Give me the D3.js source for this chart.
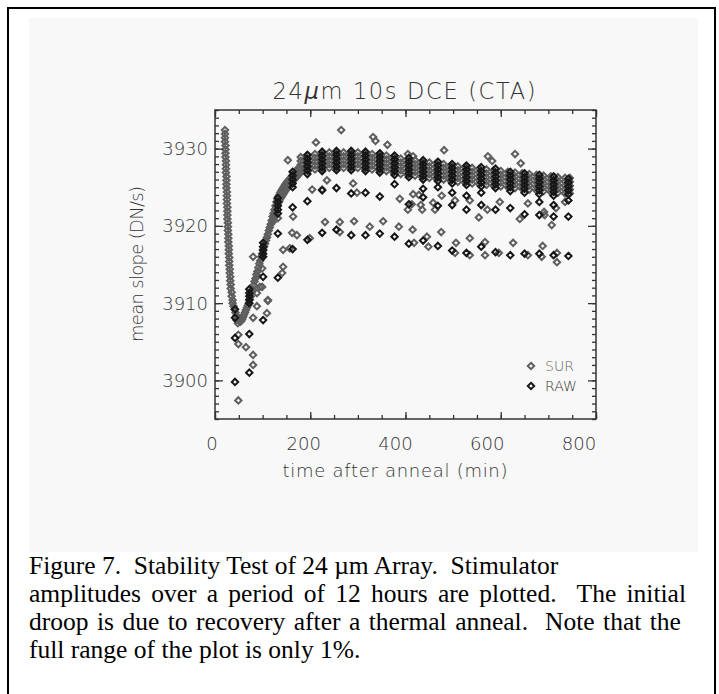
<!DOCTYPE html>
<html>
<head>
<meta charset="utf-8">
<script src="https://cdn.jsdelivr.net/npm/d3@7"></script>
<style>
body { margin: 0; background: #fff; }
svg text { white-space: pre; }
</style>
</head>
<body>
<svg id="chart"></svg>
<script>
width = 719
height = 694

titleParts = ["24", "μ", "m 10s DCE (CTA)"]
xLabel = "time after anneal (min)"
yLabel = "mean slope (DN/s)"
xTicks = [0, 200, 400, 600, 800]
yTicks = [3900, 3910, 3920, 3930]
legendNames = ["SUR", "RAW"]
captionLines = [
    "Figure 7.  Stability Test of 24 µm Array.  Stimulator",
    "amplitudes over a period of 12 hours are plotted.  The initial",
    "droop is due to recovery after a thermal anneal.  Note that the",
    "full range of the plot is only 1%."
]
// justified line widths in the scanned caption (0 = natural width)
captionWidths = [0, 657, 652, 0]

// SUR: [time, [values...]] -- droop and recovery
surDroop = [
    [21, [3932.4, 3931.9, 3931.4, 3930.9]], [22, [3930.4, 3929.9, 3929.4, 3928.9]],
    [23, [3928.4, 3927.9, 3927.4, 3926.9]], [24, [3926.4, 3925.9, 3925.4, 3924.9]],
    [25, [3924.4, 3923.9, 3923.4, 3922.9]], [26, [3922.4, 3921.9, 3921.4, 3920.9]],
    [27, [3920.4, 3919.9, 3919.4]], [28, [3918.9, 3918.4, 3917.9]],
    [29, [3917.4, 3916.9, 3916.4]], [30, [3915.9, 3915.4, 3914.9]],
    [31, [3914.4, 3913.9]], [32, [3913.4, 3912.9]], [33, [3912.4, 3911.9]],
    [35, [3911.4, 3910.9]], [37, [3910.4, 3910.0]], [39, [3909.6]], [41, [3909.2]],
    [43, [3908.8]], [45, [3908.4, 3907.8]], [48, [3908.0, 3907.4]], [51, [3907.7]],
    [53, [3907.6]], [55, [3907.7]], [57, [3907.9]], [59, [3908.2]], [61, [3908.5]],
    [63, [3908.8]], [65, [3909.1]], [67, [3909.4]], [69, [3909.7]], [71, [3910.0]],
    [73, [3910.5]], [75, [3910.9]], [77, [3911.4]], [79, [3911.8]], [81, [3912.3]],
    [83, [3912.8]], [85, [3913.2]], [87, [3913.7]], [89, [3914.1]], [91, [3914.6]],
    [93, [3915.1]], [95, [3915.5]], [97, [3916.0]], [99, [3916.4]], [101, [3916.8]],
    [103, [3917.3]], [105, [3917.7]], [107, [3918.1]], [109, [3918.5]], [111, [3918.9]],
    [113, [3919.4]], [115, [3919.8]], [117, [3920.2]], [119, [3920.7]], [121, [3921.2, 3920.5]],
    [123, [3921.6, 3920.9]], [125, [3922.1, 3921.3]], [127, [3922.6, 3921.8]],
    [129, [3923.1, 3922.3]], [131, [3923.5, 3922.7]], [133, [3923.8, 3923.0]],
    [135, [3924.0, 3923.2]], [137, [3924.3, 3923.5]], [139, [3924.5, 3923.7]],
    [141, [3924.7, 3923.9]], [143, [3924.9, 3924.1]], [145, [3925.1, 3924.3]],
    [147, [3925.3, 3924.5]], [149, [3925.5, 3924.7]], [151, [3925.6, 3924.8]],
    [153, [3925.8, 3925.0]], [155, [3925.9, 3925.1]], [157, [3926.1, 3925.3]],
    [159, [3926.2, 3925.4]], [162, [3926.5, 3925.7]], [165, [3926.7, 3925.9]],
    [168, [3926.9, 3926.1]], [171, [3927.2, 3926.3]], [174, [3927.4, 3926.6]],
    [177, [3927.5, 3926.8]]
]

// SUR: plateau, several channels per reading
surPlateau = [
    [180, [3928.9, 3928.4, 3927.9, 3927.4, 3926.9]], [195, [3929.1, 3928.6, 3928.1, 3927.6, 3927.1]],
    [210, [3929.3, 3928.8, 3928.3, 3927.8, 3927.3]], [225, [3929.4, 3928.9, 3928.4, 3927.9, 3927.4]],
    [240, [3929.5, 3929.0, 3928.5, 3928.0, 3927.5]], [255, [3929.5, 3929.0, 3928.5, 3928.0, 3927.5]],
    [270, [3929.5, 3929.0, 3928.5, 3928.0, 3927.5]], [285, [3929.5, 3929.0, 3928.5, 3928.0, 3927.5]],
    [300, [3929.5, 3929.0, 3928.5, 3928.0, 3927.5]], [315, [3929.4, 3928.9, 3928.4, 3927.9, 3927.4]],
    [330, [3929.3, 3928.8, 3928.3, 3927.8, 3927.3]], [345, [3929.2, 3928.7, 3928.2, 3927.7, 3927.2]],
    [360, [3929.1, 3928.6, 3928.1, 3927.6, 3927.1]], [375, [3928.9, 3928.4, 3927.9, 3927.4, 3926.9]],
    [390, [3928.7, 3928.2, 3927.7, 3927.2, 3926.7]], [405, [3928.6, 3928.1, 3927.6, 3927.1, 3926.6]],
    [420, [3928.5, 3928.0, 3927.5, 3927.0, 3926.5]], [435, [3928.3, 3927.8, 3927.3, 3926.8, 3926.3]],
    [450, [3928.2, 3927.7, 3927.2, 3926.7, 3926.2]], [465, [3928.1, 3927.6, 3927.1, 3926.6, 3926.1]],
    [480, [3928.0, 3927.5, 3927.0, 3926.5, 3926.0]], [495, [3927.8, 3927.3, 3926.8, 3926.3, 3925.8]],
    [510, [3927.7, 3927.2, 3926.7, 3926.2, 3925.7]], [525, [3927.6, 3927.1, 3926.6, 3926.1, 3925.6]],
    [540, [3927.5, 3927.0, 3926.5, 3926.0, 3925.5]], [555, [3927.4, 3926.9, 3926.4, 3925.9, 3925.4]],
    [570, [3927.3, 3926.8, 3926.3, 3925.8, 3925.3]], [585, [3927.2, 3926.7, 3926.2, 3925.7, 3925.2]],
    [600, [3927.1, 3926.6, 3926.1, 3925.6, 3925.1]], [615, [3927.0, 3926.5, 3926.0, 3925.5, 3925.0]],
    [630, [3926.9, 3926.4, 3925.9, 3925.4, 3924.9]], [645, [3926.8, 3926.3, 3925.8, 3925.3, 3924.8]],
    [660, [3926.7, 3926.2, 3925.7, 3925.2, 3924.7]], [675, [3926.6, 3926.1, 3925.6, 3925.1, 3924.6]],
    [690, [3926.5, 3926.0, 3925.5, 3925.0, 3924.5]], [705, [3926.4, 3925.9, 3925.4, 3924.9, 3924.4]],
    [720, [3926.3, 3925.8, 3925.3, 3924.8, 3924.3]], [735, [3926.2, 3925.7, 3925.2, 3924.7, 3924.2]],
    [745, [3926.2, 3925.7, 3925.2, 3924.7, 3924.2]]
]

// SUR: scattered single channels [time, value]
surScatter = [
    [153, 3928.5], [212, 3930.8], [265, 3932.4], [332, 3931.5], [337, 3931.0],
    [362, 3930.5], [405, 3929.3], [416, 3929.0], [481, 3929.8], [573, 3929.0],
    [582, 3928.4], [630, 3929.3], [642, 3928.1],
    [204, 3924.7], [225, 3924.7], [235, 3925.9], [290, 3925.5], [298, 3924.3],
    [388, 3923.5], [405, 3922.1], [413, 3922.8], [416, 3924.1], [432, 3922.7],
    [435, 3922.1], [458, 3923.0], [462, 3922.1], [476, 3923.9], [428, 3924.0],
    [504, 3923.3], [535, 3923.3], [554, 3921.1], [572, 3922.1], [598, 3923.1],
    [640, 3920.9], [657, 3922.9], [691, 3921.8], [707, 3920.1], [716, 3922.3],
    [735, 3923.1], [692, 3921.4],
    [132, 3921.0], [164, 3921.2], [172, 3918.8],
    [80, 3916.0], [99, 3914.5], [94, 3912.1], [111, 3910.4], [109, 3908.7],
    [143, 3914.7], [141, 3913.9], [157, 3917.1], [143, 3916.9], [162, 3919.1],
    [199, 3918.4], [231, 3920.5], [262, 3920.5], [262, 3919.2], [292, 3920.6],
    [325, 3919.9], [353, 3920.6], [386, 3919.9], [415, 3919.5], [418, 3917.8],
    [445, 3918.6], [448, 3917.3], [475, 3919.2], [506, 3917.8], [504, 3916.5],
    [535, 3918.4], [535, 3916.2], [567, 3917.9], [567, 3916.2], [596, 3916.5],
    [626, 3917.8], [657, 3916.2], [686, 3916.0], [688, 3917.4], [718, 3915.3],
    [718, 3916.5],
    [49, 3905.9], [49, 3904.7], [49, 3897.4], [65, 3904.3], [80, 3903.3],
    [80, 3902.0], [80, 3908.1], [88, 3909.6], [99, 3912.1], [111, 3910.3],
    [88, 3911.3]
]

// RAW: channels read every ~30 min [time, [values...]]
rawCols = [
    [42, [3909.2, 3908.1, 3905.5, 3899.8]],
    [72, [3911.8, 3911.3, 3910.9, 3910.4, 3910.0, 3906.0, 3901.0]],
    [101, [3917.8, 3917.3, 3916.9, 3916.4, 3916.0, 3913.4, 3907.8]],
    [132, [3923.6, 3923.1, 3922.6, 3922.1, 3921.6, 3919.0, 3913.3]],
    [163, [3927.0, 3926.5, 3926.0, 3925.5, 3925.0, 3922.4, 3917.0]],
    [194, [3929.2, 3928.7, 3928.2, 3927.7, 3927.2, 3926.7, 3923.2, 3918.2]],
    [225, [3929.6, 3929.1, 3928.6, 3928.1, 3927.6, 3927.1, 3924.6, 3919.1]],
    [255, [3929.7, 3929.2, 3928.7, 3928.2, 3927.7, 3927.2, 3924.9, 3919.5]],
    [286, [3929.7, 3929.2, 3928.7, 3928.2, 3927.7, 3927.2, 3924.2, 3918.8]],
    [316, [3929.6, 3929.1, 3928.6, 3928.1, 3927.6, 3927.1, 3924.3, 3918.8]],
    [346, [3929.4, 3928.9, 3928.4, 3927.9, 3927.4, 3926.9, 3923.8, 3919.0]],
    [377, [3929.1, 3928.6, 3928.1, 3927.6, 3927.1, 3926.6, 3925.4, 3918.6]],
    [407, [3928.8, 3928.3, 3927.8, 3927.3, 3926.8, 3926.3, 3922.8, 3917.7]],
    [437, [3928.5, 3928.0, 3927.5, 3927.0, 3926.5, 3926.0, 3924.8, 3923.7, 3918.1]],
    [468, [3928.3, 3927.8, 3927.3, 3926.8, 3926.3, 3925.8, 3925.0, 3922.6, 3917.4]],
    [498, [3928.0, 3927.5, 3927.0, 3926.5, 3926.0, 3925.5, 3924.3, 3922.7, 3916.8]],
    [528, [3927.8, 3927.3, 3926.8, 3926.3, 3925.8, 3925.3, 3923.9, 3922.1, 3916.5]],
    [559, [3927.6, 3927.1, 3926.6, 3926.1, 3925.6, 3925.1, 3924.3, 3922.7, 3917.3]],
    [589, [3927.4, 3926.9, 3926.4, 3925.9, 3925.4, 3924.9, 3922.1, 3916.6]],
    [620, [3927.0, 3926.5, 3926.0, 3925.5, 3925.0, 3924.5, 3922.3, 3916.2]],
    [650, [3926.8, 3926.3, 3925.8, 3925.3, 3924.8, 3924.3, 3921.5, 3916.4]],
    [681, [3926.6, 3926.1, 3925.6, 3925.1, 3924.6, 3924.1, 3923.1, 3921.4, 3916.4]],
    [711, [3926.4, 3925.9, 3925.4, 3924.9, 3924.4, 3923.9, 3922.7, 3921.2, 3916.2]],
    [742, [3926.1, 3925.6, 3925.1, 3924.6, 3924.1, 3923.3, 3921.2, 3916.1]]
]

surColor = "#5e5e5e"
rawColor = "#161616"
axisColor = "#333"
idlFont = "'DejaVu Sans', sans-serif"

chart = function() {
    const svg = d3.select("#chart").attr("width", width).attr("height", height);

    // page frame and the grey plot panel
    svg.append("rect").attr("x", 8).attr("y", 8).attr("width", 707).attr("height", 700)
        .attr("fill", "#fff").attr("stroke", "#000").attr("stroke-width", 2);
    svg.append("rect").attr("x", 29).attr("y", 18).attr("width", 669).attr("height", 534)
        .attr("fill", "#f8f8f8");

    const x = d3.scaleLinear().domain([0, 800]).range([215, 596]);
    const y = d3.scaleLinear().domain([3895, 3935]).range([419, 110]);
    // IDL places the x labels a little left of the ticks
    const xLab = d3.scaleLinear().domain([0, 800]).range([212, 579]);

    const cols = c => c.flatMap(([t, vs]) => vs.map(v => [t, v]));
    const sur = cols(surDroop).concat(cols(surPlateau), surScatter);
    const raw = cols(rawCols);

    const r = 3.2;
    const diamond = `M0,${-r}L${r},0L0,${r}L${-r},0Z`;

    const plot = svg.append("g");
    plot.selectAll(".sur").data(sur).join("path")
        .attr("class", "sur")
        .attr("d", diamond)
        .attr("transform", d => `translate(${x(d[0])},${y(d[1])})`)
        .attr("fill", "none").attr("stroke", surColor).attr("stroke-width", 2);
    plot.selectAll(".raw").data(raw).join("path")
        .attr("class", "raw")
        .attr("d", diamond)
        .attr("transform", d => `translate(${x(d[0])},${y(d[1])})`)
        .attr("fill", "none").attr("stroke", rawColor).attr("stroke-width", 2);

    // ticks on all four sides, pointing in
    const xMinor = d3.range(0, 801, 50), yMinor = d3.range(3895, 3936, 1);
    const addAxis = (axis, tx, ty) => {
        const g = svg.append("g").attr("transform", `translate(${tx},${ty})`).call(axis);
        g.select(".domain").remove();
        g.selectAll("line").attr("stroke", axisColor).attr("stroke-width", 1.3);
        g.selectAll("text").remove();
    };
    addAxis(d3.axisBottom(x).tickValues(xMinor).tickSize(-4), 0, 419);
    addAxis(d3.axisBottom(x).tickValues(xTicks).tickSize(-7), 0, 419);
    addAxis(d3.axisTop(x).tickValues(xMinor).tickSize(-4), 0, 110);
    addAxis(d3.axisTop(x).tickValues(xTicks).tickSize(-7), 0, 110);
    addAxis(d3.axisLeft(y).tickValues(yMinor).tickSize(-4), 215, 0);
    addAxis(d3.axisLeft(y).tickValues(yTicks).tickSize(-8), 215, 0);
    addAxis(d3.axisRight(y).tickValues(yMinor).tickSize(-4), 596, 0);
    addAxis(d3.axisRight(y).tickValues(yTicks).tickSize(-8), 596, 0);

    svg.append("rect").attr("x", 215).attr("y", 110).attr("width", 381).attr("height", 309)
        .attr("fill", "none").attr("stroke", axisColor).attr("stroke-width", 1.5);

    const txt = svg.append("g").attr("font-family", idlFont).attr("font-weight", 200)
        .attr("fill", axisColor);

    txt.selectAll(".xt").data(xTicks).join("text")
        .attr("x", d => xLab(d)).attr("y", 450)
        .attr("text-anchor", "middle").attr("font-size", 18)
        .text(d => d);
    txt.selectAll(".yt").data(yTicks).join("text")
        .attr("x", 208).attr("y", d => y(d) + 6.5)
        .attr("text-anchor", "end").attr("font-size", 18)
        .text(d => d);

    const title = txt.append("text").attr("x", 404).attr("y", 99)
        .attr("text-anchor", "middle").attr("font-size", 22.5)
        .attr("textLength", 263).attr("lengthAdjust", "spacing");
    title.selectAll("tspan").data(titleParts).join("tspan")
        .attr("font-style", (d, i) => i === 1 ? "italic" : null)
        .text(d => d);
    txt.append("text").attr("x", 395).attr("y", 477)
        .attr("text-anchor", "middle").attr("font-size", 18)
        .attr("textLength", 225).attr("lengthAdjust", "spacing")
        .text(xLabel);
    txt.append("text").attr("transform", "translate(143,264) rotate(-90)")
        .attr("text-anchor", "middle").attr("font-size", 18)
        .attr("textLength", 156).attr("lengthAdjust", "spacing")
        .text(yLabel);

    // legend
    const legend = svg.append("g");
    legendNames.forEach((name, i) => {
        const ly = 366 + i * 20;
        legend.append("path").attr("d", diamond)
            .attr("transform", `translate(531,${ly})`)
            .attr("fill", "none").attr("stroke", i ? rawColor : surColor).attr("stroke-width", 2);
        legend.append("text").attr("x", 545).attr("y", ly + 5)
            .attr("font-family", idlFont).attr("font-weight", 200).attr("font-size", 14)
            .attr("fill", i ? "#333" : "#666")
            .text(name);
    });

    // figure caption, justified lines get extra word spacing
    svg.append("g").selectAll("text").data(captionLines).join("text")
        .attr("x", 29).attr("y", (d, i) => 574 + i * 28)
        .attr("font-family", "'Liberation Serif', 'Times New Roman', serif")
        .attr("font-size", 25.5).attr("fill", "#000")
        .text(d => d)
        .each(function(d, i) {
            const target = captionWidths[i];
            if (!target) return;
            const spaces = d.split(" ").length - 1;
            const extra = (target - this.getComputedTextLength()) / spaces;
            d3.select(this).attr("word-spacing", extra.toFixed(2));
        });

    return svg.node();
}
chart()
</script>
</body>
</html>
